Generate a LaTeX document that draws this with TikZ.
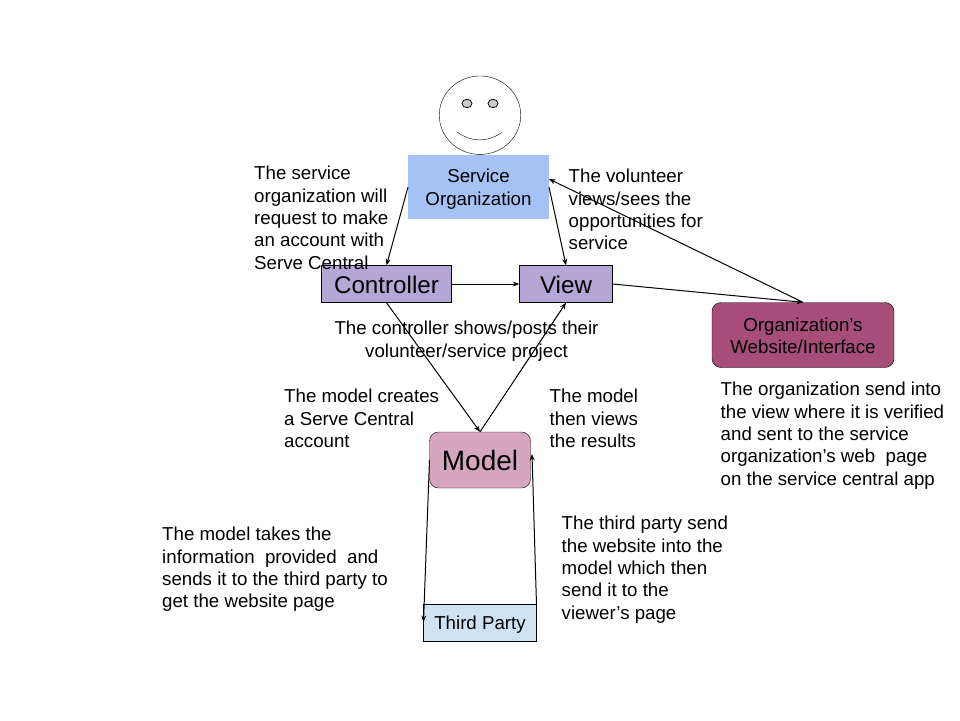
\documentclass[tikz,border=0pt]{standalone}
\usepackage{fontspec}
\setmainfont{Liberation Sans}
\usetikzlibrary{arrows.meta,shapes.geometric}
\definecolor{svc}{HTML}{A4C2F4}
\definecolor{ctl}{HTML}{B4A7D6}
\definecolor{mdl}{HTML}{D5A6BD}
\definecolor{org}{HTML}{A64D79}
\definecolor{tpy}{HTML}{CFE2F3}
\definecolor{eye}{HTML}{CCCCCC}
\newcommand{\tallstrut}[1]{\rule{0pt}{#1}}
\tikzset{
  x=1pt,y=-1pt,
  line width=1pt,
  box/.style={draw=black,minimum width=#1,inner sep=0pt,align=center,anchor=center},
  smallfont/.style={font=\fontsize{18.7}{22.35}\selectfont},
  bodytxt/.style={anchor=north west,inner sep=0pt,align=left,smallfont,text depth=0pt},
  ctrtxt/.style={inner sep=0pt,align=center,smallfont},
  conn/.style={draw=black,line width=1pt,-{Stealth[length=6.5pt,width=5pt]}},
}
\begin{document}
\begin{tikzpicture}
\useasboundingbox (0,0) rectangle (960,720);
\fill[white] (0,0) rectangle (960,720);
% face
\node[draw=black,ellipse,minimum width=81.5pt,minimum height=78.5pt,inner sep=0pt] (face) at (480,115.2) {};
\node[draw=black,fill=eye,ellipse,minimum width=10pt,minimum height=8.5pt,inner sep=0pt,line width=0.8pt] (eyeL) at (467,103.5) {};
\node[draw=black,fill=eye,ellipse,minimum width=10pt,minimum height=8.5pt,inner sep=0pt,line width=0.8pt] (eyeR) at (493,103.5) {};
\coordinate (smileL) at (457,132);
\coordinate (smileR) at (502,132.5);
\draw (smileL) .. controls (472,142.5) and (487,142.5) .. (smileR);
% boxes
\node[box=141pt,draw=none,fill=svc,minimum height=64pt,smallfont] (service) at (478.5,187) {\tallstrut{17.6pt}Service\\Organization};
\node[box=130pt,fill=ctl,minimum height=37pt,font=\fontsize{24.2}{26}\selectfont] (controller) at (386.5,284) {\tallstrut{19.6pt}Controller};
\node[box=93pt,fill=ctl,minimum height=37pt,font=\fontsize{24.2}{26}\selectfont] (view) at (566,284) {\tallstrut{19.6pt}View};
\node[box=182pt,fill=org,rounded corners=9pt,minimum height=65pt,smallfont] (orgsite) at (803,335) {\tallstrut{15.6pt}Organization’s\\Website/Interface};
\node[box=101pt,fill=mdl,rounded corners=9pt,minimum height=56pt,font=\fontsize{28}{32}\selectfont] (model) at (480,460) {Model};
\node[box=113pt,fill=tpy,minimum height=37pt,smallfont] (third) at (480,623) {\tallstrut{17.6pt}Third Party};
% connector ends on the box edges
\coordinate (svcL) at (408,187);
\coordinate (svcR) at (549,187);
\coordinate (svcRin) at (549,179);
\coordinate (tpR) at (536.5,605);
\coordinate (mdR) at (532,454);
\coordinate (mdL) at (429.5,460);
\coordinate (tpL) at (423.5,622);
% connectors
\draw[conn] (svcL) -- (controller.north);
\draw[conn] (svcR) -- (view.north);
\draw[conn] (controller.east) -- (view.west);
\draw[conn] (controller.south) -- (model.north);
\draw[conn] (model.north) -- (view.south);
\draw[conn] (view.east) -- (orgsite.north);
\draw[conn] (orgsite.north) -- (svcRin);
\draw[conn] (mdL) -- (tpL);
\draw[conn] (tpR) -- (mdR);
% labels
\node[bodytxt] (t1) at (254,166) {The service\\organization will\\request to make\\an account with\\Serve Central};
\node[bodytxt] (t2) at (568.5,169) {The volunteer\\views/sees the\\opportunities for\\service};
\node[ctrtxt] (t3) at (466.5,341) {The controller shows/posts their\\volunteer/service project};
\node[bodytxt] (t4) at (284,389) {The model creates\\a Serve Central\\account};
\node[bodytxt] (t5) at (549.5,389) {The model\\then views\\the results};
\node[bodytxt] (t6) at (720.5,382) {The organization send into\\the view where it is verified\\and sent to the service\\organization’s web\ \ page\\on the service central app};
\node[bodytxt] (t7) at (162,527) {The model takes the\\information\ \ provided\ \ and\\sends it to the third party to\\get the website page};
\node[bodytxt] (t8) at (561.5,516) {The third party send\\the website into the\\model which then\\send it to the\\viewer’s page};
\end{tikzpicture}
\end{document}
